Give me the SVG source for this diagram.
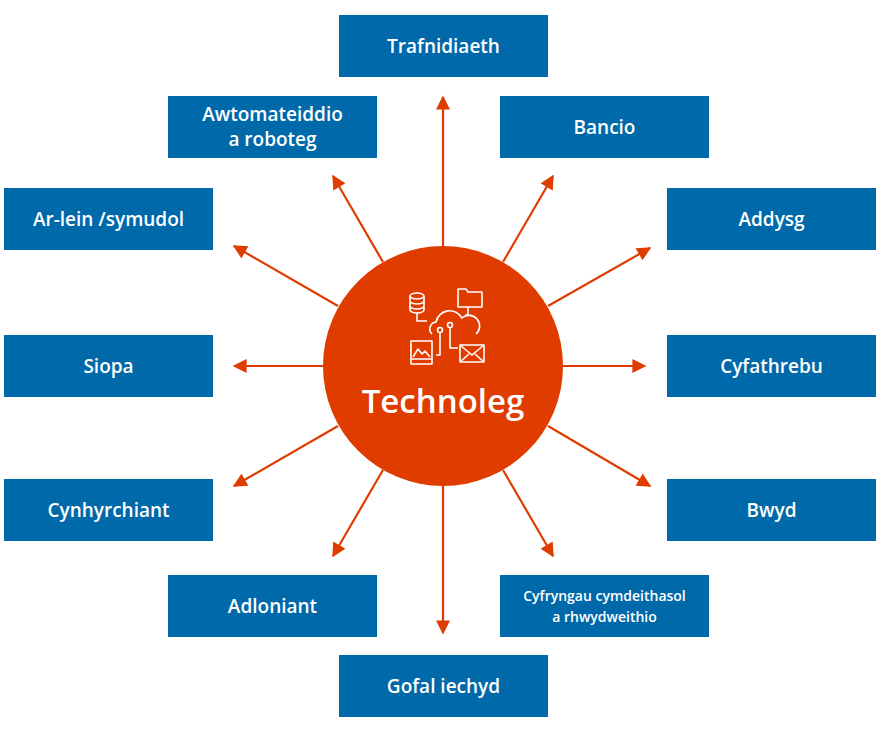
<svg xmlns="http://www.w3.org/2000/svg" width="880" height="733" viewBox="0 0 880 733">
<style>
.box{fill:#0069aa}
.t{fill:#fff;font-family:"Open Sans","Liberation Sans",sans-serif;font-weight:600;font-size:19px;text-anchor:middle}
.s{font-size:14px}
.c{stroke:#e03c00;stroke-width:2.2;fill:none}
.ic{stroke:#fff;stroke-width:1.6;fill:none;stroke-linejoin:round}
</style>
<defs>
<marker id="m" viewBox="0 0 10 10" refX="9" refY="5" markerWidth="16" markerHeight="14" orient="auto" markerUnits="userSpaceOnUse"><path d="M0,0L10,5L0,10z" fill="#e03c00"/></marker></defs>
<g id="connectors" class="c" marker-end="url(#m)">
<line x1="443" y1="250" x2="443" y2="97"/>
<line x1="443" y1="480" x2="443" y2="633"/>
<line x1="560" y1="366" x2="645" y2="366"/>
<line x1="326" y1="366" x2="234" y2="366"/>
<line x1="503" y1="262" x2="553" y2="176"/>
<line x1="383" y1="262" x2="333" y2="176"/>
<line x1="548" y1="306" x2="650" y2="248"/>
<line x1="338" y1="306" x2="234" y2="246"/>
<line x1="548" y1="426" x2="650" y2="486"/>
<line x1="338" y1="426" x2="234" y2="486"/>
<line x1="503" y1="470" x2="553" y2="556"/>
<line x1="383" y1="470" x2="333" y2="556"/>
</g>
<g id="center">
<circle cx="443" cy="366" r="120" fill="#e03c00"/>
<g class="ic">
<ellipse cx="417" cy="296" rx="7" ry="3"/><path d="M410,296v14a7,3 0 0 0 14,0v-14M410,301a7,3 0 0 0 14,0M410,306a7,3 0 0 0 14,0"/>
<path d="M458,307v-18h8l2,3h14v15z"/>
<path d="M417,313v8h10M468,307v8h-3"/>
<path d="M432,334a7,7 0 0 1 4,-12a14,14 0 0 1 26,-4a10,10 0 0 1 14,16"/>
<circle cx="440" cy="330" r="2.5"/><circle cx="450" cy="325" r="2.5"/>
<path d="M440,333v22h-4M450,328v20h8"/>
<rect x="411" y="341" width="21" height="23"/><path d="M413,357l5,-8l4,5l3,-3l5,6M411,359h21"/>
<rect x="460" y="345" width="24" height="17"/><path d="M460,345l12,10l12,-10M460,362l9,-8M484,362l-9,-8"/>
</g>
<text class="t" x="443" y="413" style="font-size:33px">Technoleg</text>
</g>
<g id="n1"><rect class="box" x="339" y="15" width="209" height="62"/><text class="t" x="443.5" y="53">Trafnidiaeth</text></g>
<g id="n2"><rect class="box" x="168" y="96" width="209" height="62"/><text class="t" x="272.5" y="121">Awtomateiddio</text><text class="t" x="272.5" y="146">a roboteg</text></g>
<g id="n3"><rect class="box" x="500" y="96" width="209" height="62"/><text class="t" x="604.5" y="134">Bancio</text></g>
<g id="n4"><rect class="box" x="4" y="188" width="209" height="62"/><text class="t" x="108.5" y="226">Ar-lein /symudol</text></g>
<g id="n5"><rect class="box" x="667" y="188" width="209" height="62"/><text class="t" x="771.5" y="226">Addysg</text></g>
<g id="n6"><rect class="box" x="4" y="335" width="209" height="62"/><text class="t" x="108.5" y="373">Siopa</text></g>
<g id="n7"><rect class="box" x="667" y="335" width="209" height="62"/><text class="t" x="771.5" y="373">Cyfathrebu</text></g>
<g id="n8"><rect class="box" x="4" y="479" width="209" height="62"/><text class="t" x="108.5" y="517">Cynhyrchiant</text></g>
<g id="n9"><rect class="box" x="667" y="479" width="209" height="62"/><text class="t" x="771.5" y="517">Bwyd</text></g>
<g id="n10"><rect class="box" x="168" y="575" width="209" height="62"/><text class="t" x="272.5" y="613">Adloniant</text></g>
<g id="n11"><rect class="box" x="500" y="575" width="209" height="62"/><text class="t s" x="604.5" y="601">Cyfryngau cymdeithasol</text><text class="t s" x="604.5" y="622">a rhwydweithio</text></g>
<g id="n12"><rect class="box" x="339" y="655" width="209" height="62"/><text class="t" x="443.5" y="693">Gofal iechyd</text></g>
</svg>
